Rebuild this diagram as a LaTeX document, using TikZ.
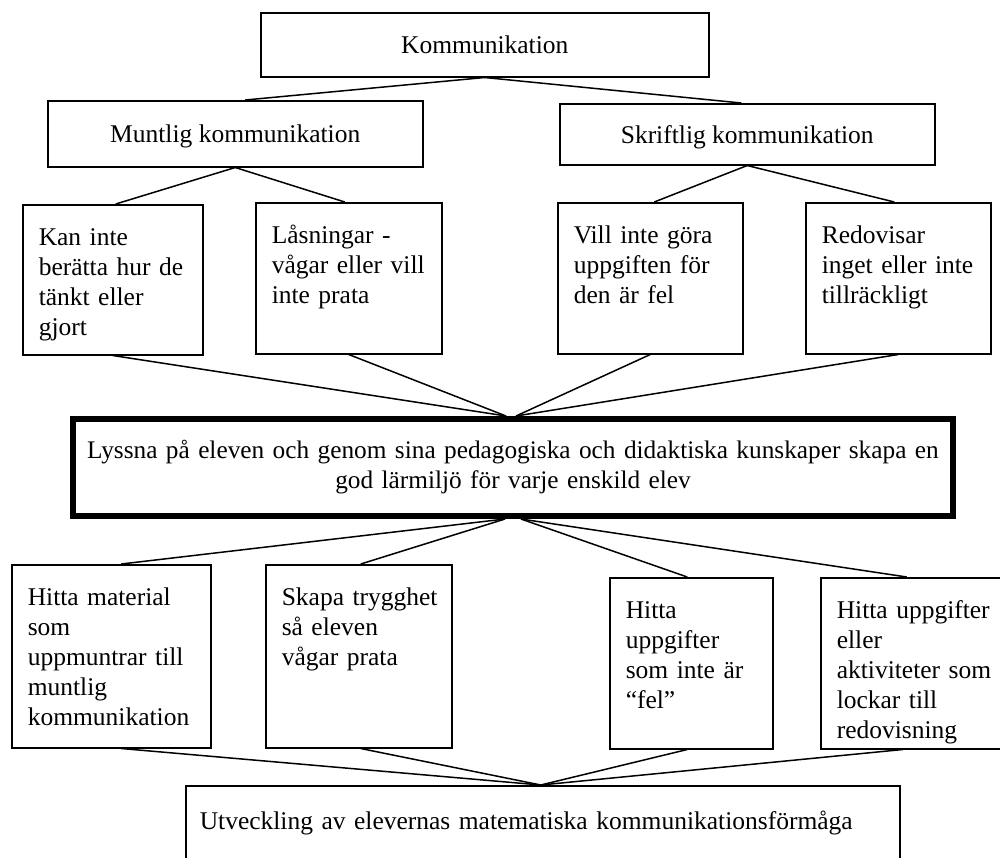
\documentclass[tikz,border=0pt]{standalone}
\usepackage{fontspec}
\setmainfont{Liberation Serif}
\usetikzlibrary{positioning}
\hyphenpenalty=10000
\exhyphenpenalty=10000
\newcommand\lnx[1]{\mbox{#1}}
\tikzset{
  base/.style={draw, line width=1.5pt, inner sep=0pt, anchor=north west,
    font=\fontsize{25.5}{30}\selectfont},
  cbox/.style={base, align=center, text height=18pt, text depth=0pt},
  lbox/.style n args={2}{base, align=left, minimum width=#1pt, minimum height=#2pt,
    inner xsep=16pt, text width=#1pt-32pt, text height=41pt, text depth=#2pt-41pt},
  conn/.style={draw, line width=1.5pt},
}
\begin{document}
\begin{tikzpicture}[x=1pt,y=-1pt]
\useasboundingbox (0,0) rectangle (1000,857);
\clip (0,0) rectangle (1000,857);
\fill[white] (0,0) rectangle (1000,857);

% top level
\node[cbox, minimum width=448pt, minimum height=64pt] (komm) at (260,12) {Kommunikation};
\node[cbox, minimum width=375pt, minimum height=66pt] (munt) at (47,100) {Muntlig kommunikation};
\node[cbox, minimum width=375pt, minimum height=61pt] (skrift) at (559,103) {Skriftlig kommunikation};

% problems
\node[lbox={180}{150}] (kan) at (22,204) {\lnx{Kan inte}\\\lnx{berätta hur de}\\\lnx{tänkt eller}\\\lnx{gjort}};
\node[lbox={186}{151}] (las) at (255,202) {\lnx{Låsningar -}\\\lnx{vågar eller vill}\\\lnx{inte prata}};
\node[lbox={185}{151}] (vill) at (557,202) {\lnx{Vill inte göra}\\\lnx{uppgiften för}\\\lnx{den är fel}};
\node[lbox={185}{151}] (redo) at (805,202) {\lnx{Redovisar}\\\lnx{inget eller inte}\\\lnx{tillräckligt}};

% central
\node[base, line width=6pt, align=center, minimum width=880pt, minimum height=97pt,
  inner xsep=0pt, text width=880pt, text height=39pt, text depth=58pt,
  font=\fontsize{25.3}{30}\selectfont] (lyssna) at (70,416)
  {\lnx{Lyssna på eleven och genom sina pedagogiska och didaktiska kunskaper skapa en}\\\lnx{god lärmiljö för varje enskild elev}};

% actions
\node[lbox={199}{183}] (hmat) at (11,564) {\lnx{Hitta material}\\\lnx{som}\\\lnx{uppmuntrar till}\\\lnx{muntlig}\\\lnx{kommunikation}};
\node[lbox={186}{183}] (skapa) at (265,564) {\lnx{Skapa trygghet}\\\lnx{så eleven}\\\lnx{vågar prata}};
\node[lbox={163}{171}] (hupp) at (609,577) {\lnx{Hitta}\\\lnx{uppgifter}\\\lnx{som inte är}\\\lnx{“fel”}};
\node[lbox={200}{171}] (hell) at (820,577) {\lnx{Hitta uppgifter}\\\lnx{eller}\\\lnx{aktiviteter som}\\\lnx{lockar till}\\\lnx{redovisning}};

% result
\node[base, align=left, minimum width=714pt, minimum height=120pt, inner xsep=14pt,
  text width=686pt, text height=44pt, text depth=76pt] (utv) at (185,785)
  {\lnx{Utveckling av elevernas matematiska kommunikationsförmåga}};

% connectors
\draw[conn] (komm.south) -- ([xshift=10pt]munt.north);
\draw[conn] (komm.south) -- ([xshift=-6pt]skrift.north);
\draw[conn] (munt.south) -- ([xshift=3pt]kan.north);
\draw[conn] (munt.south) -- ([xshift=-4pt]las.north);
\draw[conn] (skrift.south) -- ([xshift=4pt]vill.north);
\draw[conn] (skrift.south) -- ([xshift=-4pt]redo.north);

\draw[conn] (kan.south) -- ([xshift=-7pt]lyssna.north);
\draw[conn] (las.south) -- ([xshift=-7pt]lyssna.north);
\draw[conn] (vill.south) -- ([xshift=3pt]lyssna.north);
\draw[conn] (redo.south) -- ([xshift=3pt]lyssna.north);

\draw[conn] ([xshift=-8pt]lyssna.south) -- ([xshift=10pt]hmat.north);
\draw[conn] ([xshift=-8pt]lyssna.south) -- ([xshift=2pt]skapa.north);
\draw[conn] ([xshift=8pt]lyssna.south) -- ([xshift=-4pt]hupp.north);
\draw[conn] ([xshift=8pt]lyssna.south) -- ([xshift=-14pt]hell.north);

\draw[conn] ([xshift=10pt]hmat.south) -- ([xshift=-2pt]utv.north);
\draw[conn] ([xshift=2pt]skapa.south) -- ([xshift=-2pt]utv.north);
\draw[conn] ([xshift=-4pt]hupp.south) -- ([xshift=-2pt]utv.north);
\draw[conn] ([xshift=-18pt]hell.south) -- ([xshift=-2pt]utv.north);
\end{tikzpicture}
\end{document}
